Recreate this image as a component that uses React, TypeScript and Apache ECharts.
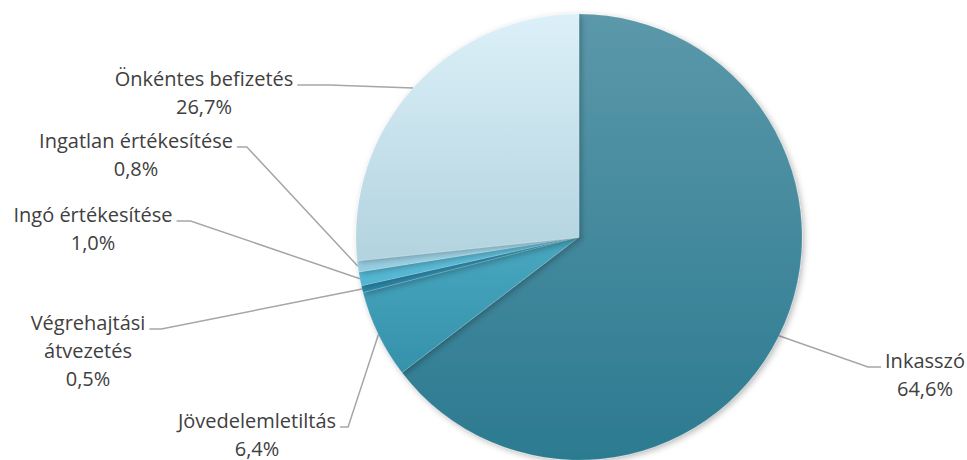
import React, { useEffect, useRef } from "react";
import * as echarts from "echarts";

const categories = [
  "Inkasszó",
  "Jövedelemletiltás",
  "Végrehajtási\nátvezetés",
  "Ingó értékesítése",
  "Ingatlan értékesítése",
  "Önkéntes befizetés",
];
const shares = [64.6, 6.4, 0.5, 1.0, 0.8, 26.7];

const sliceColors: [string, string][] = [
  ["#5b98aa", "#2c7a90"],
  ["#48a8c0", "#3691ab"],
  ["#3aa3c8", "#2a86a8"],
  ["#6ac7e1", "#50b4d1"],
  ["#abdcec", "#93cce0"],
  ["#dcf0f8", "#b2d3df"],
];

// label block anchors: centre x, top y, side of pie, horizontal tail length
const labelAnchors = [
  { x: 925, y: 346, side: "right", tail: 13 },
  { x: 257, y: 406, side: "left", tail: 8 },
  { x: 88, y: 308, side: "left", tail: 12 },
  { x: 93, y: 200, side: "left", tail: 14 },
  { x: 136, y: 126, side: "left", tail: 10 },
  { x: 204, y: 64, side: "left", tail: 32 },
];

export default function App() {
  const ref = useRef<HTMLDivElement>(null);
  useEffect(() => {
    if (!ref.current) return;
    const chart = echarts.init(ref.current, undefined, { renderer: "svg" });
    const data = categories.map((name, i) => ({
      name,
      value: shares[i],
      itemStyle: {
        color: new echarts.graphic.LinearGradient(0, 0, 0, 1, [
          { offset: 0, color: sliceColors[i][0] },
          { offset: 1, color: sliceColors[i][1] },
        ]),
      },
    }));
    chart.setOption({
      animation: false,
      backgroundColor: "#ffffff",
      series: [
        {
          type: "pie",
          center: [579, 237],
          radius: 223,
          startAngle: 90,
          clockwise: true,
          avoidLabelOverlap: false,
          data,
          itemStyle: {
            shadowBlur: 6,
            shadowColor: "rgba(0,0,0,0.28)",
            shadowOffsetX: 2,
            shadowOffsetY: 2,
            borderColor: "rgba(255,255,255,0.25)",
            borderWidth: 0.5,
          },
          label: {
            show: true,
            position: "outside",
            fontFamily: "Open Sans",
            fontSize: 20,
            lineHeight: 28,
            color: "#404040",
            align: "center",
            formatter: (p: any) =>
              `${p.name}\n${Number(p.value).toFixed(1).replace(".", ",")}%`,
          },
          labelLine: {
            show: true,
            smooth: false,
            lineStyle: { color: "#a6a6a6", width: 1.5 },
          },
          labelLayout: (p: any) => {
            const a = labelAnchors[p.dataIndex];
            const w = p.labelRect.width;
            const lineY = a.y + 21;
            const endX = a.side === "left" ? a.x + w / 2 + 4 : a.x - w / 2 - 4;
            const elbowX = a.side === "left" ? endX + a.tail : endX - a.tail;
            const start =
              p.labelLinePoints && p.labelLinePoints[0]
                ? p.labelLinePoints[0]
                : [elbowX, lineY];
            return {
              x: a.x,
              y: a.y,
              align: "center",
              verticalAlign: "top",
              labelLinePoints: [start, [elbowX, lineY], [endX, lineY]],
            };
          },
        },
      ],
    });
    return () => chart.dispose();
  }, []);
  return (
    <div
      ref={ref}
      style={{ width: 967, height: 460, position: "absolute", left: 0, top: 0 }}
    />
  );
}
